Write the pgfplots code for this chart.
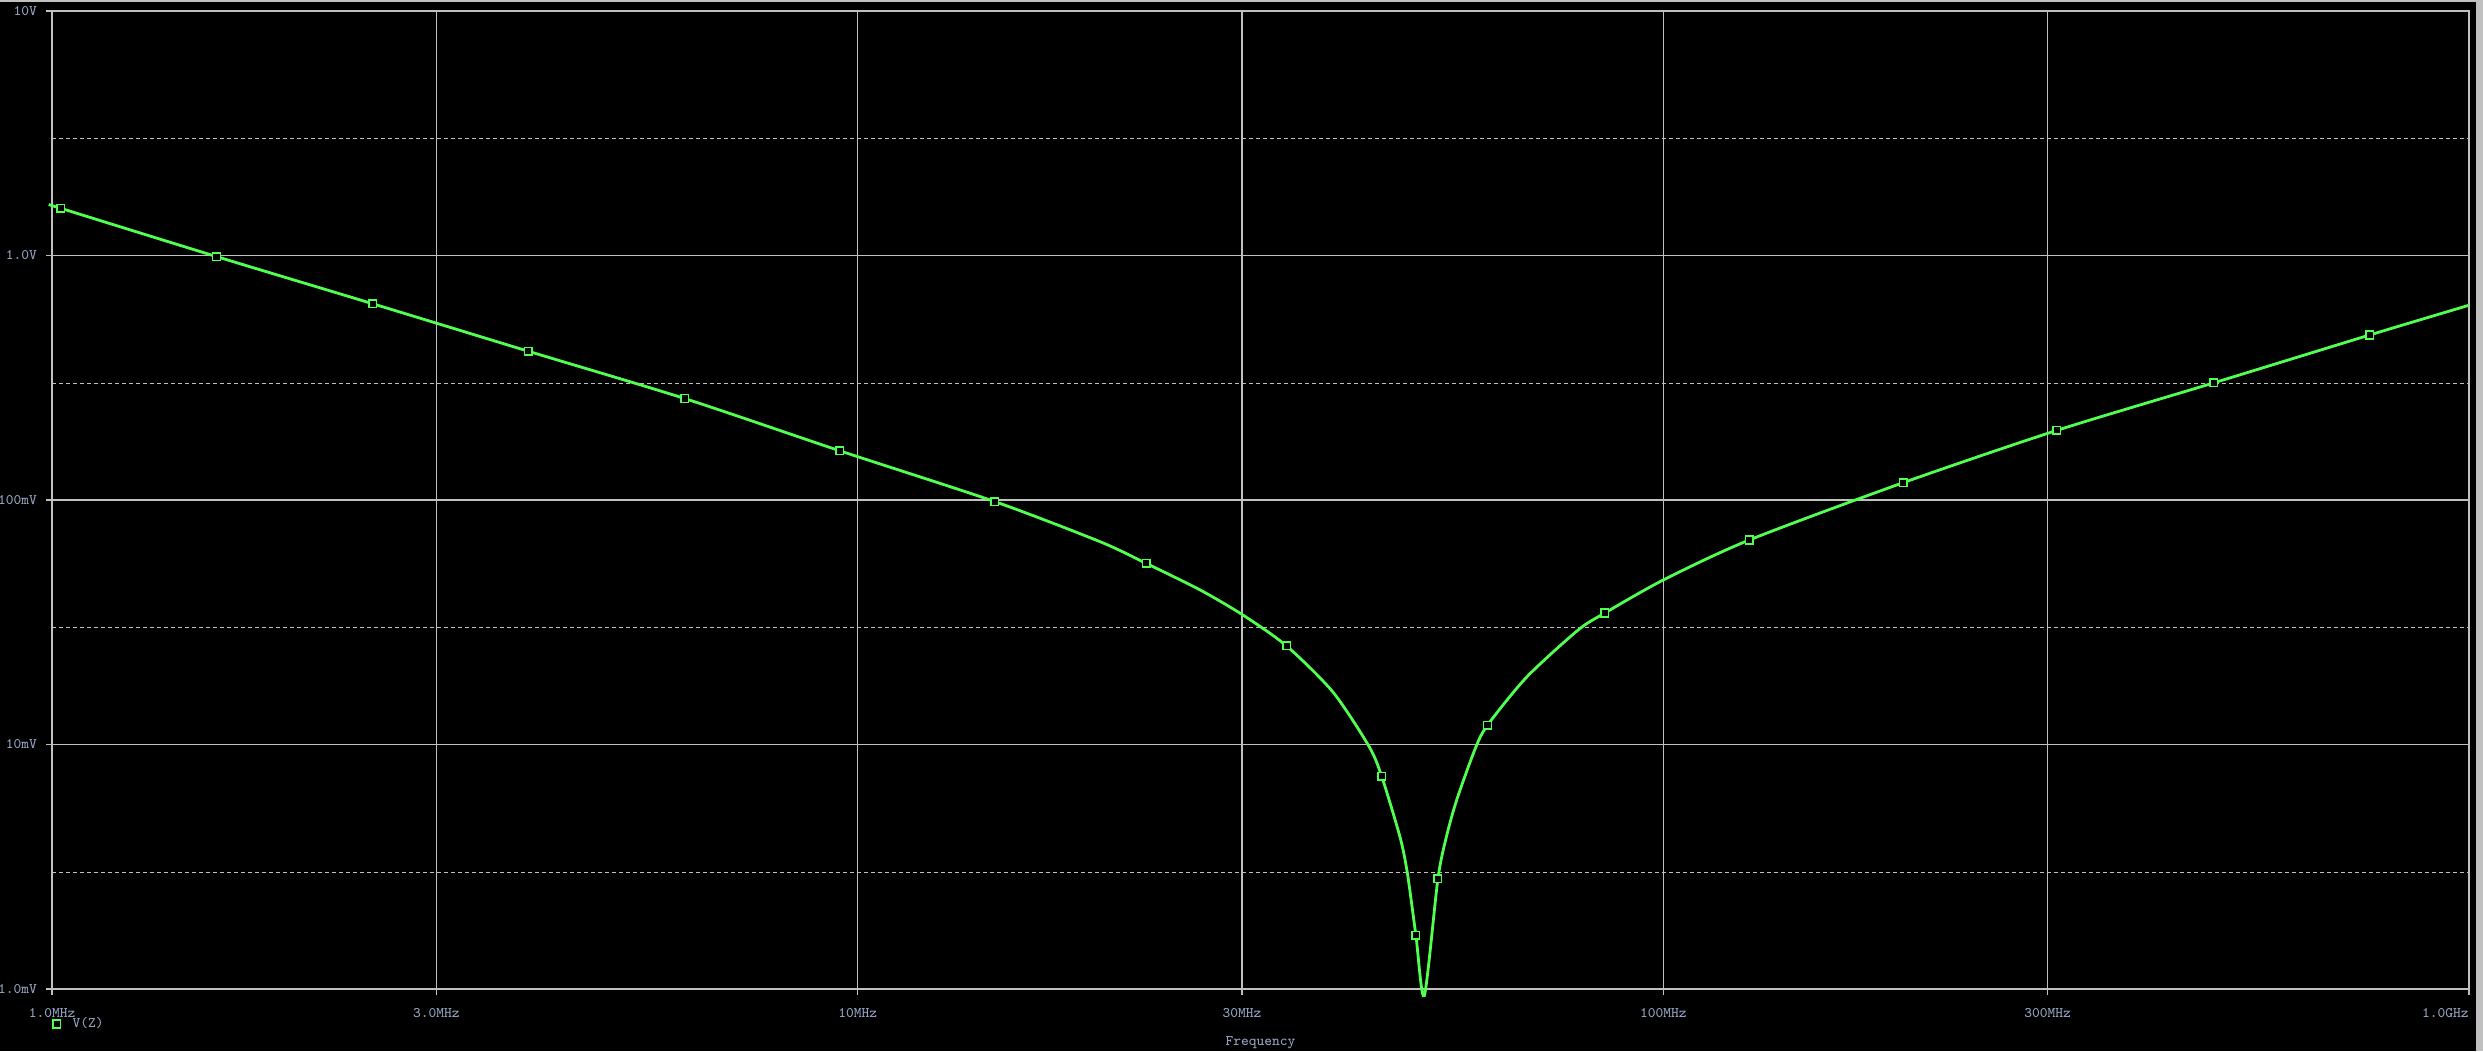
\documentclass[border=0pt]{standalone}
\usepackage{fontspec}
\usepackage{pgfplots}
\pgfplotsset{compat=1.18}
\definecolor{gridc}{RGB}{192,192,192}
\definecolor{lab}{RGB}{150,165,195}
\definecolor{trace}{RGB}{80,255,80}
\begin{document}
\begin{tikzpicture}
\fill[black] (0,0) rectangle (1241.5pt,525.5pt);
\useasboundingbox (0,0) rectangle (1241.5pt,525.5pt);
\fill[gridc] (0,524.5pt) rectangle (1241.5pt,525.5pt);
\fill[gridc] (1238pt,0) rectangle (1241.5pt,525.5pt);
\begin{axis}[
  at={(26pt,31pt)}, anchor=south west,
  scale only axis, width=1208.5pt, height=489pt,
  xmode=log, ymode=log,
  xmin=1e6, xmax=1e9, ymin=1e-3, ymax=10,
  clip=false,
  axis line style={gridc, line width=0.6pt},
  tick pos=left, tick align=outside,
  major tick length=3pt, minor tick length=0pt,
  tick style={gridc, line width=0.6pt},
  xminorticks=false,
  xtick={1e6,3e6,1e7,3e7,1e8,3e8},
  xticklabels={1.0MHz,3.0MHz,10MHz,30MHz,100MHz,300MHz},
  extra x ticks={1e9}, extra x tick labels={1.0GHz},
  extra x tick style={xticklabel style={anchor=base east}},
  ytick={1e-3,1e-2,1e-1,1,10},
  yticklabels={1.0mV,10mV,100mV,1.0V,10V},
  minor ytick={3e-3,3e-2,3e-1,3},
  xmajorgrids, ymajorgrids, yminorgrids,
  major grid style={gridc, line width=0.6pt},
  minor grid style={gridc, line width=0.6pt, dash pattern=on 2pt off 1.5pt},
  ticklabel style={font=\ttfamily\fontsize{7.3}{8}\selectfont, text=lab, inner sep=0pt},
  xticklabel style={anchor=base, yshift=-11pt},
  yticklabel style={anchor=east, xshift=-4.35pt},
  xlabel={Frequency},
  xlabel style={font=\ttfamily\fontsize{7.3}{8}\selectfont, text=lab, inner sep=0pt,
    at={(axis description cs:0.5,0)}, anchor=base, yshift=-28.3pt},
  legend style={at={(axis description cs:0,0)}, anchor=west, yshift=-17.5pt, xshift=0.3pt,
    draw=none, fill=none, text=lab, inner sep=0pt,
    font=\ttfamily\fontsize{7.3}{8}\selectfont,
    /tikz/every odd column/.append style={column sep=4pt}},
  legend image code/.code={\draw[#1] plot coordinates {(0pt,0pt)};},
]
\addplot[trace, line width=1.4pt, smooth, tension=0.45, forget plot] coordinates {
(1.0e6,1.60) (1.025e6,1.56) (1.6e6,0.99) (2.5e6,0.635) (3.9e6,0.406)
(6.1e6,0.26) (9.5e6,0.159) (14.8e6,0.0985) (20.0e6,0.0675) (22.8e6,0.0551)
(26.6e6,0.0429) (30.05e6,0.0339) (34.07e6,0.0253) (38.9e6,0.0164)
(43.1e6,0.00985) (44.7e6,0.00743) (47.1e6,0.0042) (48.1e6,0.0030)
(49.3e6,0.00166) (50.5e6,0.00094) (52.5e6,0.00282) (53.8e6,0.0042)
(55.4e6,0.00593) (58.4e6,0.0096) (60.5e6,0.0120) (67.7e6,0.0189)
(78.4e6,0.0294) (84.6e6,0.0345) (100e6,0.0471) (127.8e6,0.0686)
(198.6e6,0.1178) (308e6,0.1927) (482e6,0.3013) (753e6,0.473) (1000e6,0.626)
};
\addplot[only marks, mark=square*, mark size=1.9pt,
  mark options={draw=trace, fill=black, line width=0.75pt}] coordinates {
(1.025e6,1.56) (1.6e6,0.99) (2.5e6,0.635) (3.9e6,0.406) (6.1e6,0.26)
(9.5e6,0.159) (14.8e6,0.0985) (22.8e6,0.0551) (34.07e6,0.0253)
(44.7e6,0.00743) (49.3e6,0.00166) (52.5e6,0.00282) (60.5e6,0.0120)
(84.6e6,0.0345) (127.8e6,0.0686) (198.6e6,0.1178) (308e6,0.1927)
(482e6,0.3013) (753e6,0.473)
};
\addlegendentry{V(Z)}
\end{axis}
\end{tikzpicture}
\end{document}
